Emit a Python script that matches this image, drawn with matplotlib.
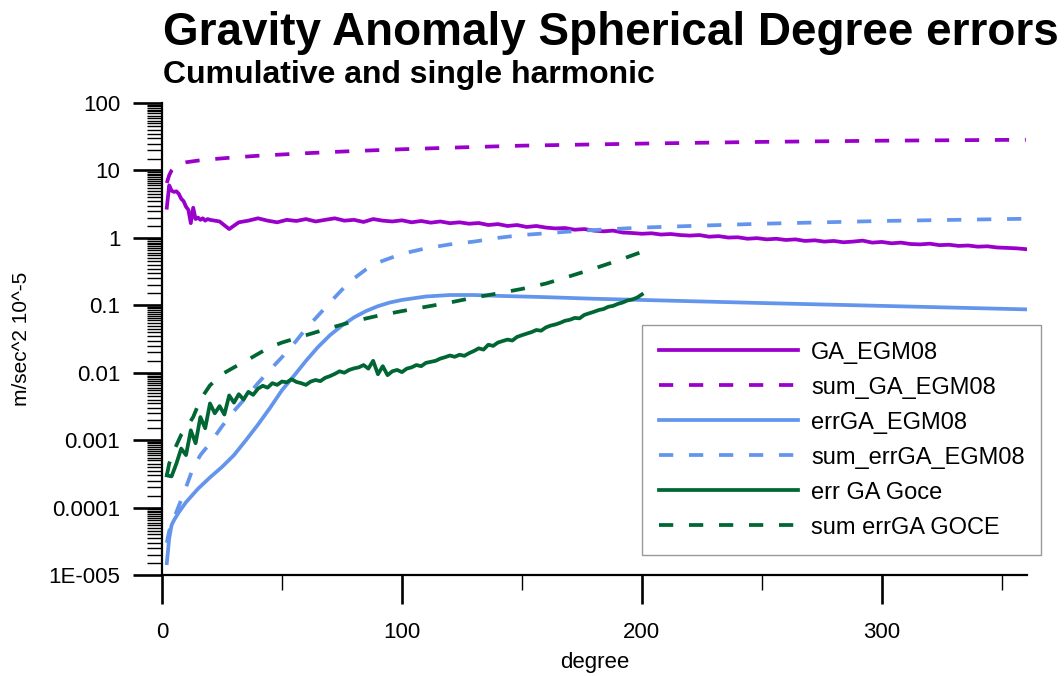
import numpy as np
import matplotlib
matplotlib.use("Agg")
import matplotlib.pyplot as plt
from matplotlib.ticker import FixedLocator, FixedFormatter, LogLocator, NullFormatter

# degree errors (units m/sec^2 10^-5)

# GA_EGM08 - single degree, noisy
ga_deg = list(range(2, 21)) + list(range(24, 361, 4))
ga_egm08 = [2.8, 6.0, 5.0, 4.8, 4.9, 4.5, 3.8, 3.5, 2.9, 2.6, 1.65, 2.8, 1.9, 2.0, 1.85, 1.95, 1.8, 1.9, 1.85,
            1.75, 1.35, 1.7, 1.8, 1.95, 1.8, 1.7, 1.85, 1.78, 1.9, 1.75, 1.85, 1.95, 1.8, 1.85, 1.72,
            1.9, 1.8, 1.75, 1.82, 1.7, 1.78, 1.68, 1.75, 1.65, 1.7, 1.62, 1.66, 1.55, 1.6, 1.5, 1.55,
            1.45, 1.5, 1.42, 1.38, 1.4, 1.32, 1.35, 1.28, 1.25, 1.28, 1.2, 1.18, 1.15, 1.17, 1.12, 1.14,
            1.1, 1.08, 1.1, 1.04, 1.06, 1.01, 1.02, 0.97, 0.99, 0.95, 0.97, 0.93, 0.95, 0.9, 0.92, 0.88,
            0.9, 0.86, 0.88, 0.91, 0.85, 0.87, 0.83, 0.85, 0.81, 0.8, 0.82, 0.78, 0.79, 0.76, 0.77, 0.74,
            0.75, 0.72, 0.71, 0.7, 0.68]

# sum_GA_EGM08 - cumulative
sum_ga_deg = [2, 3, 4, 5, 7, 10, 15, 20, 30, 40, 60, 80, 100, 125, 150, 200, 250, 300, 360]
sum_ga_egm08 = [6.5, 8.5, 10.0, 11.0, 12.3, 13.2, 14.0, 14.6, 15.6, 16.5, 18.0, 19.4, 20.6, 22.0, 23.3,
                25.0, 26.5, 27.6, 28.5]

# errGA_EGM08 - single degree error
err_deg = [2, 3, 4, 5, 7, 10, 15, 20, 25, 30, 35, 40, 45, 50, 55, 60, 65, 70, 75, 80, 85, 90, 95,
           100, 110, 120, 130, 140, 160, 180, 200, 250, 300, 360]
err_ga_egm08 = [1.5e-5, 3.5e-5, 5.5e-5, 6.5e-5, 8.5e-5, 1.2e-4, 1.9e-4, 2.8e-4, 4.0e-4, 6.0e-4, 1.0e-3,
                1.7e-3, 3.0e-3, 5.5e-3, 0.009, 0.015, 0.024, 0.036, 0.05, 0.066, 0.082, 0.097, 0.11,
                0.12, 0.135, 0.142, 0.142, 0.138, 0.132, 0.125, 0.12, 0.108, 0.098, 0.087]

# sum_errGA_EGM08 - cumulative error
sumerr_deg = [2, 3, 5, 8, 10, 13, 16, 20, 25, 30, 35, 40, 45, 50, 55, 60, 65, 70, 75, 80, 85, 90,
              100, 110, 120, 130, 140, 150, 175, 200, 225, 250, 300, 360]
sum_err_ga_egm08 = [3e-5, 4.5e-5, 7e-5, 1.3e-4, 2e-4, 3.9e-4, 6e-4, 9e-4, 1.6e-3, 2.7e-3, 4.3e-3, 7e-3,
                    0.011, 0.017, 0.027, 0.045, 0.07, 0.11, 0.17, 0.25, 0.34, 0.43, 0.58, 0.7, 0.8,
                    0.88, 1.0, 1.1, 1.28, 1.42, 1.52, 1.62, 1.78, 1.92]

# err GA Goce - single degree error, noisy, degrees 2..200 step 2
goce_deg = np.arange(2, 201, 2)
err_ga_goce = [3.0e-4, 2.9e-4, 4.5e-4, 7.5e-4, 6.0e-4, 1.4e-3, 9.0e-4, 2.2e-3, 1.5e-3, 3.5e-3,
               2.5e-3, 3.2e-3, 2.4e-3, 4.6e-3, 3.6e-3, 4.8e-3, 4.0e-3, 5.2e-3, 4.7e-3, 5.8e-3,
               6.4e-3, 6.0e-3, 7.0e-3, 6.6e-3, 7.4e-3, 7.2e-3, 8.0e-3, 7.3e-3, 7.0e-3, 6.6e-3,
               7.4e-3, 7.8e-3, 7.5e-3, 8.4e-3, 8.9e-3, 9.6e-3, 1.05e-2, 1.0e-2, 1.1e-2, 1.16e-2,
               1.2e-2, 1.3e-2, 1.15e-2, 1.5e-2, 0.95e-2, 1.25e-2, 0.92e-2, 1.05e-2, 1.1e-2, 1.02e-2,
               1.15e-2, 1.2e-2, 1.3e-2, 1.25e-2, 1.4e-2, 1.45e-2, 1.5e-2, 1.62e-2, 1.7e-2, 1.8e-2,
               1.72e-2, 1.85e-2, 1.78e-2, 1.95e-2, 2.1e-2, 2.3e-2, 2.2e-2, 2.6e-2, 2.5e-2, 2.8e-2,
               2.95e-2, 3.1e-2, 3.0e-2, 3.4e-2, 3.6e-2, 3.8e-2, 4.0e-2, 4.3e-2, 4.2e-2, 4.7e-2,
               5.0e-2, 5.2e-2, 5.5e-2, 5.9e-2, 6.1e-2, 6.5e-2, 6.4e-2, 7.2e-2, 7.6e-2, 8.0e-2,
               8.5e-2, 8.8e-2, 9.5e-2, 9.8e-2, 0.105, 0.11, 0.118, 0.122, 0.13, 0.145]

# sum errGA GOCE - cumulative error
sumgoce_deg = [2, 3, 5, 8, 10, 13, 16, 20, 25, 30, 35, 40, 45, 50, 60, 70, 80, 90, 100, 110, 120,
               130, 140, 150, 160, 170, 180, 190, 200]
sum_err_ga_goce = [3e-4, 4.5e-4, 7e-4, 1.2e-3, 1.5e-3, 2.2e-3, 4e-3, 6.5e-3, 9.5e-3, 0.012, 0.015,
                   0.019, 0.024, 0.028, 0.036, 0.046, 0.058, 0.07, 0.082, 0.095, 0.11, 0.13, 0.15,
                   0.175, 0.21, 0.27, 0.35, 0.46, 0.62]

ytick_vals = [1e-5, 1e-4, 1e-3, 1e-2, 1e-1, 1, 10, 100]
ytick_labels = ["1E-005", "0.0001", "0.001", "0.01", "0.1", "1", "10", "100"]

purple = "#9A00CC"
blue = "#6495ED"
green = "#006633"
dash = (0, (3.8, 4.2))

plt.rcParams["font.family"] = ["Liberation Sans", "DejaVu Sans"]

fig = plt.figure(figsize=(10.64, 6.76), dpi=100)
ax = fig.add_axes([162 / 1064, 101 / 676, 865 / 1064, 472 / 676])

lw = 2.7
ax.plot(ga_deg, ga_egm08, color=purple, lw=lw, label="GA_EGM08")
ax.plot(sum_ga_deg, sum_ga_egm08, color=purple, lw=lw, ls=dash, label="sum_GA_EGM08")
ax.plot(err_deg, err_ga_egm08, color=blue, lw=lw, label="errGA_EGM08")
ax.plot(sumerr_deg, sum_err_ga_egm08, color=blue, lw=lw, ls=dash, label="sum_errGA_EGM08")
ax.plot(goce_deg, err_ga_goce, color=green, lw=lw, label="err GA Goce")
ax.plot(sumgoce_deg, sum_err_ga_goce, color=green, lw=lw, ls=dash, label="sum errGA GOCE")

ax.set_yscale("log")
ax.set_ylim(1e-5, 100)
ax.set_xlim(0, 360.5)

# axes look: only left and bottom, ticks pointing out
for s in ["top", "right"]:
    ax.spines[s].set_visible(False)
for s in ["left", "bottom"]:
    ax.spines[s].set_linewidth(1.6)

ax.yaxis.set_major_locator(FixedLocator(ytick_vals))
ax.yaxis.set_major_formatter(FixedFormatter(ytick_labels))
ax.yaxis.set_minor_locator(LogLocator(base=10, subs=np.arange(1.5, 10, 0.5), numticks=20))
ax.yaxis.set_minor_formatter(NullFormatter())

ax.set_xticks([0, 100, 200, 300])
ax.set_xticks([50, 150, 250, 350], minor=True)

ax.tick_params(which="major", direction="out", length=21, width=1.9, labelsize=16, color="black")
ax.tick_params(axis="y", which="major", pad=9)
ax.tick_params(axis="x", which="major", pad=13)
ax.tick_params(which="minor", direction="out", length=11, width=1.0)

ax.set_xlabel("degree", fontsize=16, labelpad=6)
ax.set_ylabel("m/sec^2 10^-5", fontsize=15)
ax.yaxis.set_label_coords(-0.152, 0.5)

leg = ax.legend(loc="lower left", bbox_to_anchor=(0.555, 0.042), borderaxespad=0, fontsize=17,
                handlelength=5.9, handletextpad=0.55, labelspacing=0.55, borderpad=0.7,
                fancybox=False, framealpha=1, edgecolor="#999999")
leg.get_frame().set_linewidth(1.0)

fig.text(163 / 1064, 1 - 45 / 676, "Gravity Anomaly Spherical Degree errors",
         fontsize=33, fontweight="bold", va="baseline", ha="left")
fig.text(163 / 1064, 1 - 83 / 676, "Cumulative and single harmonic",
         fontsize=23, fontweight="bold", va="baseline", ha="left")

fig.savefig("out.png", dpi=100)
